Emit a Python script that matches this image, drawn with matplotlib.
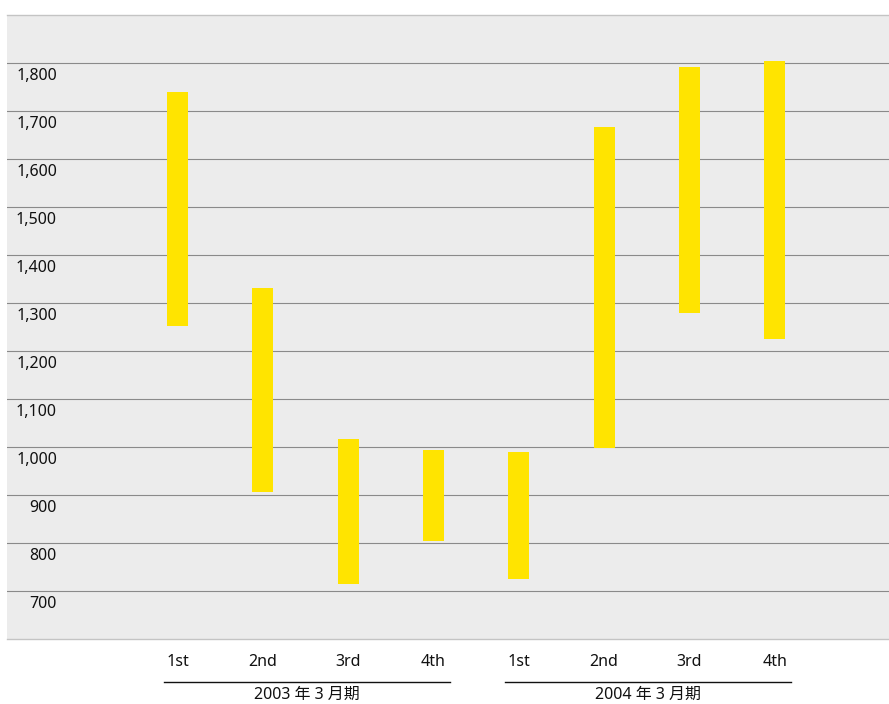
import matplotlib
matplotlib.use("Agg")
import matplotlib.pyplot as plt
import matplotlib.transforms as mtransforms

plt.rcParams['font.family'] = ['Noto Sans', 'Noto Sans CJK JP', 'DejaVu Sans']

quarters = ["1st", "2nd", "3rd", "4th", "1st", "2nd", "3rd", "4th"]
groups = ["2003 年 3 月期", "2004 年 3 月期"]
highs = [1740, 1332, 1017, 994, 990, 1667, 1792, 1805]
lows = [1252, 907, 715, 804, 725, 998, 1279, 1225]
yticks = [700, 800, 900, 1000, 1100, 1200, 1300, 1400, 1500, 1600, 1700, 1800]

W, H = 889, 704
fig = plt.figure(figsize=(W / 100, H / 100), dpi=100)
ax = fig.add_axes([7 / W, (H - 639) / H, (W - 7) / W, 624 / H])
ax.set_facecolor("#ececec")

x = list(range(len(quarters)))
heights = [h - l for h, l in zip(highs, lows)]
ax.bar(x, heights, bottom=lows, width=21 / 85.3, color="#ffe400", zorder=3)

ax.set_xlim(-2.0, 8.34)
ax.set_ylim(600, 1900)
ax.set_xticks([])
ax.set_yticks([])
for v in yticks:
    ax.axhline(v, color="#8a8a8a", lw=0.8, zorder=2)

for s in ["left", "right"]:
    ax.spines[s].set_visible(False)
for s in ["top", "bottom"]:
    ax.spines[s].set_color("#c4c4c4")
    ax.spines[s].set_linewidth(1.0)

FS = 11.5
# y labels inside the axes, right-aligned, below each gridline
ytrans = mtransforms.blended_transform_factory(fig.transFigure, ax.transData)
off = mtransforms.ScaledTranslation(0, -13.5 / 100, fig.dpi_scale_trans)
for v in yticks:
    ax.text(57 / W, v, f"{v:,}", transform=ytrans + off, ha="right", va="center",
            fontsize=FS, color="#111111")

xtrans = mtransforms.blended_transform_factory(ax.transData, fig.transFigure)
for i, q in enumerate(quarters):
    ax.text(i, (H - 662) / H, q, transform=xtrans, ha="center", va="center",
            fontsize=FS, color="#111111", clip_on=False)

for g, name in enumerate(groups):
    start = g * 4
    line = plt.Line2D([start - 0.16, start + 3.19], [(H - 682) / H] * 2,
                      transform=xtrans, color="#111111", lw=1.0, clip_on=False)
    fig.add_artist(line)
    ax.text(start + 1.52, (H - 695) / H, name, transform=xtrans, ha="center",
            va="center", fontsize=FS, color="#111111", clip_on=False)

fig.savefig("out.png", dpi=100)
